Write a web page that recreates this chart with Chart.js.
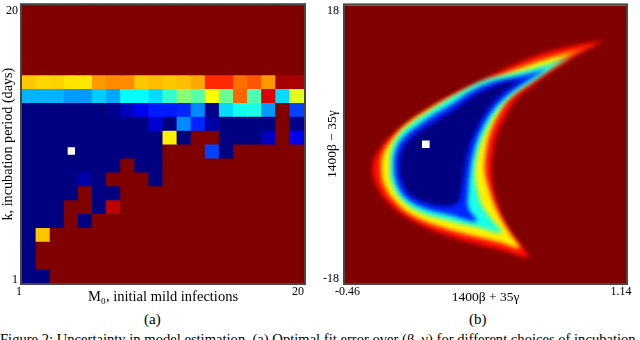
<!DOCTYPE html>
<html>
<head>
<meta charset="utf-8">
<script src="https://cdn.jsdelivr.net/npm/chart.js@4/dist/chart.umd.min.js"></script>
<style>
  body { margin: 0; width: 640px; height: 340px; overflow: hidden; position: relative; background: #fff; font-family: "Liberation Serif", serif; color: #000; }
  .panel { position: absolute; top: 0; width: 320px; height: 310px; }
  .sub { position: absolute; top: 310px; font-size: 15px; line-height: 18px; }
  .caption { position: absolute; left: 0; top: 331px; font-size: 14.6px; line-height: 16px; white-space: nowrap; }
</style>
</head>
<body>
<div class="panel" style="left:0"><canvas id="errGrid" width="320" height="310"></canvas></div>
<div class="panel" style="left:320px"><canvas id="errMap" width="320" height="310"></canvas></div>
<div class="sub" style="left:144px">(a)</div>
<div class="sub" style="left:469px">(b)</div>
<div class="caption">Figure 2: Uncertainty in model estimation. (a) Optimal fit error over (β, γ) for different choices of incubation</div>
<script>
// (a) fit error for each (M0, k), scaled 0..1 on the jet colour map
const mildInfections = [1, 2, 3, 4, 5, 6, 7, 8, 9, 10, 11, 12, 13, 14, 15, 16, 17, 18, 19, 20];
const incubationDays = [20, 19, 18, 17, 16, 15, 14, 13, 12, 11, 10, 9, 8, 7, 6, 5, 4, 3, 2, 1];
const fitError = [
  [1, 1, 1, 1, 1, 1, 1, 1, 1, 1, 1, 1, 1, 1, 1, 1, 1, 1, 1, 1],
  [1, 1, 1, 1, 1, 1, 1, 1, 1, 1, 1, 1, 1, 1, 1, 1, 1, 1, 1, 1],
  [1, 1, 1, 1, 1, 1, 1, 1, 1, 1, 1, 1, 1, 1, 1, 1, 1, 1, 1, 1],
  [1, 1, 1, 1, 1, 1, 1, 1, 1, 1, 1, 1, 1, 1, 1, 1, 1, 1, 1, 1],
  [1, 1, 1, 1, 1, 1, 1, 1, 1, 1, 1, 1, 1, 1, 1, 1, 1, 1, 1, 1],
  [0.68, 0.665, 0.67, 0.65, 0.65, 0.725, 0.74, 0.74, 0.68, 0.69, 0.68, 0.69, 0.71, 0.835, 0.835, 0.765, 0.79, 0.725, 0.96, 0.96],
  [0.30, 0.30, 0.30, 0.275, 0.275, 0.325, 0.29, 0.38, 0.38, 0.34, 0.425, 0.51, 0.46, 0.625, 0.48, 0.775, 0.45, 0.91, 0.34, 0.60],
  [0, 0, 0, 0, 0, 0, 0.01, 0.06, 0.11, 0.15, 0.15, 0.16, 0.26, 0.01, 0.34, 0.39, 0.40, 0.275, 1, 0.19],
  [0, 0, 0, 0, 0, 0, 0, 0, 0, 0.08, 0, 0.26, 0.16, 0.04, 0, 0, 0, 0, 1, 0.01],
  [0, 0, 0, 0, 0, 0, 0, 0, 0, 0, 0.64, 0, 1, 1, 0, 0, 0, 0.06, 1, 0.11],
  [0, 0, 0, 0, 0, 0, 0, 0, 0, 0, 1, 1, 1, 0.19, 0, 1, 1, 1, 1, 1],
  [0, 0, 0, 0, 0, 0, 0, 1, 0, 0, 1, 1, 1, 1, 1, 1, 1, 1, 1, 1],
  [0, 0, 0, 0, 0.04, 0, 1, 1, 1, 0, 1, 1, 1, 1, 1, 1, 1, 1, 1, 1],
  [0, 0, 0, 0, 1, 0, 0, 1, 1, 1, 1, 1, 1, 1, 1, 1, 1, 1, 1, 1],
  [0, 0, 0, 1, 1, 0, 0.94, 1, 1, 1, 1, 1, 1, 1, 1, 1, 1, 1, 1, 1],
  [0, 0, 0, 1, 0, 1, 1, 1, 1, 1, 1, 1, 1, 1, 1, 1, 1, 1, 1, 1],
  [0, 0.68, 1, 1, 1, 1, 1, 1, 1, 1, 1, 1, 1, 1, 1, 1, 1, 1, 1, 1],
  [0, 1, 1, 1, 1, 1, 1, 1, 1, 1, 1, 1, 1, 1, 1, 1, 1, 1, 1, 1],
  [0, 1, 1, 1, 1, 1, 1, 1, 1, 1, 1, 1, 1, 1, 1, 1, 1, 1, 1, 1],
  [0, 0, 1, 1, 1, 1, 1, 1, 1, 1, 1, 1, 1, 1, 1, 1, 1, 1, 1, 1]
];
const bestFitA = [{ x: 4, y: 10 }];
const mTickLabels = ['1', '20'];
const kTickLabels = ['1', '20'];

// (b) contours of the error surface over (1400β+35γ, 1400β−35γ), outermost last
const contourLevels = [0.0, 0.16, 0.4, 0.64, 0.86];
const coreContour = [[0.546, 8.40], [0.461, 8.06], [0.375, 7.41], [0.271, 6.26], [0.176, 4.77], [0.081, 3.36], [-0.014, 1.99], [-0.090, 0.71], [-0.137, -0.78], [-0.151, -2.71], [-0.137, -4.84], [-0.090, -6.55], [0.005, -7.62], [0.119, -8.04], [0.185, -7.49], [0.204, -5.69], [0.218, -3.56], [0.242, -0.78], [0.290, 1.99], [0.356, 4.55], [0.432, 6.48], [0.508, 7.76]];
const blueContour = [[0.688, 9.76], [0.574, 9.04], [0.461, 8.48], [0.356, 7.88], [0.252, 6.77], [0.157, 5.32], [0.053, 3.91], [-0.042, 2.42], [-0.118, 1.05], [-0.166, -0.57], [-0.181, -2.71], [-0.166, -5.05], [-0.113, -6.98], [-0.005, -8.34], [0.128, -9.11], [0.290, -9.96], [0.242, -8.26], [0.242, -6.12], [0.252, -3.56], [0.275, -0.78], [0.320, 1.99], [0.385, 4.47], [0.461, 6.26], [0.565, 7.97]];
const cyanContour = [[0.831, 11.30], [0.707, 10.45], [0.574, 9.59], [0.442, 8.91], [0.337, 8.31], [0.233, 7.20], [0.128, 5.84], [0.024, 4.34], [-0.071, 2.85], [-0.147, 1.35], [-0.194, -0.57], [-0.204, -2.71], [-0.194, -5.05], [-0.137, -7.19], [-0.024, -8.90], [0.128, -9.88], [0.290, -10.73], [0.432, -11.46], [0.375, -9.75], [0.318, -7.83], [0.290, -5.69], [0.280, -3.56], [0.299, -0.78], [0.347, 1.99], [0.413, 4.47], [0.499, 6.48], [0.612, 8.18], [0.736, 10.11]];
const yellowContour = [[0.964, 12.75], [0.840, 12.03], [0.669, 10.96], [0.499, 9.59], [0.328, 7.97], [0.157, 6.26], [0.005, 4.34], [-0.118, 2.42], [-0.204, 0.28], [-0.246, -1.42], [-0.255, -2.92], [-0.242, -5.05], [-0.185, -7.19], [-0.071, -9.32], [0.109, -10.90], [0.290, -12.01], [0.442, -12.87], [0.533, -13.47], [0.489, -11.89], [0.438, -10.05], [0.390, -7.83], [0.356, -5.48], [0.337, -3.56], [0.343, -1.00], [0.369, 1.57], [0.413, 3.79], [0.476, 5.96], [0.584, 7.97], [0.717, 10.11], [0.850, 11.90]];
const edgeContour = [[1.020, 13.44], [0.859, 12.88], [0.669, 11.81], [0.480, 10.11], [0.290, 7.97], [0.100, 5.84], [-0.052, 3.70], [-0.185, 1.35], [-0.261, -0.57], [-0.302, -2.71], [-0.289, -4.84], [-0.223, -7.40], [-0.090, -9.75], [0.100, -11.67], [0.290, -12.95], [0.442, -13.81], [0.584, -14.66], [0.537, -12.95], [0.480, -11.25], [0.432, -9.11], [0.394, -6.55], [0.375, -3.99], [0.381, -1.42], [0.404, 1.14], [0.451, 3.49], [0.517, 5.84], [0.631, 7.97], [0.764, 10.11], [0.897, 12.03]];
const bestFitB = [{ x: 0.0, y: 0.0 }];
const xbTickLabels = ['-0.46', '1.14'];
const ybTickLabels = ['-18', '18'];

// jet colour map
function jet(v) {
  const c = t => Math.round(255 * Math.max(0, Math.min(1, 1.5 - Math.abs(4 * v - t))));
  return `rgb(${c(3)}, ${c(2)}, ${c(1)})`;
}

Chart.defaults.font.family = '"Liberation Serif", serif';
Chart.defaults.color = '#000';

// dark frame, plot background and blur for the smooth map
const framePlugin = {
  id: 'frame',
  beforeDraw(chart, args, opts) {
    if (!opts.fill) return;
    const { ctx, chartArea: a } = chart;
    ctx.save();
    ctx.fillStyle = opts.fill;
    ctx.fillRect(a.left, a.top, a.width, a.height);
    ctx.restore();
  },
  beforeDatasetsDraw(chart, args, opts) {
    if (!opts.blur) return;
    chart.ctx.save();
    chart.ctx.filter = `blur(${opts.blur}px)`;
  },
  beforeDatasetDraw(chart, args, opts) {
    if (opts.blur && chart.data.datasets[args.index].sharp) chart.ctx.filter = 'none';
  },
  afterDatasetsDraw(chart, args, opts) {
    if (opts.blur) chart.ctx.restore();
  },
  afterDraw(chart) {
    const { ctx, chartArea: a } = chart;
    ctx.save();
    ctx.strokeStyle = '#474747';
    ctx.lineWidth = 2;
    ctx.strokeRect(a.left - 1, a.top - 1, a.width + 2, a.height + 2);
    ctx.restore();
  }
};

// fixed-size axis boxes so the plot area sits where the figure has it
function fixBox(w, h) {
  return s => {
    if (w !== null) s.width = w;
    if (h !== null) s.height = h;
    s.paddingTop = 0; s.paddingBottom = 0; s.paddingLeft = 0; s.paddingRight = 0;
  };
}

function axis(min, max, tickValues, labels, tickOpts, title, fit) {
  return {
    type: 'linear',
    min: min,
    max: max,
    offset: false,
    grid: { display: false, drawTicks: false },
    border: { display: false },
    afterBuildTicks: s => { s.ticks = tickValues.map(v => ({ value: v })); },
    afterFit: fit,
    ticks: Object.assign({ autoSkip: false, maxRotation: 0, font: { size: 12 }, callback: (v, i) => labels[i] }, tickOpts),
    title: Object.assign({ display: true }, title)
  };
}

// (a) grid of cells: one floating-bar dataset per incubation period
const gridSets = incubationDays.map((k, r) => ({
  type: 'bar',
  data: mildInfections.map(m => ({ x: m, y: [k - 0.5, k + 0.5] })),
  backgroundColor: fitError[r].map(jet),
  borderWidth: 0,
  inflateAmount: 0.5,
  grouped: false,
  barPercentage: 1,
  categoryPercentage: 1
}));

new Chart(document.getElementById('errGrid'), {
  type: 'bar',
  data: {
    datasets: [
      { type: 'scatter', data: bestFitA, pointStyle: 'rect', pointRadius: 5.2, backgroundColor: '#fff', borderWidth: 0 },
      ...gridSets
    ]
  },
  options: {
    responsive: false,
    animation: false,
    events: [],
    layout: { padding: { left: 0, right: 16, top: 2, bottom: 0 } },
    plugins: { legend: { display: false }, tooltip: { enabled: false }, frame: { fill: jet(1) } },
    scales: {
      x: axis(0.5, 20.5, [0.5, 20.5], mTickLabels, { align: 'end', padding: 2 },
        { text: 'M\u2080, initial mild infections', font: { size: 14.5 }, padding: { top: 0, bottom: 4 } }, fixBox(null, 27)),
      y: axis(0.5, 20.5, [0.75, 20.1], kTickLabels, { padding: 4 },
        { text: 'k, incubation period (days)', font: { size: 14.2 }, padding: { top: 0, bottom: 0 } }, fixBox(22, null))
    }
  },
  plugins: [framePlugin]
});

// (b) smooth error map drawn as filled contours
const contourSets = [coreContour, blueContour, cyanContour, yellowContour, edgeContour].map((c, i) => ({
  type: 'scatter',
  showLine: true,
  data: c.concat([c[0]]).map(([x, y]) => ({ x, y })),
  fill: 'shape',
  backgroundColor: jet(contourLevels[i]),
  borderWidth: 0,
  pointRadius: 0,
  tension: 0.4
}));

new Chart(document.getElementById('errMap'), {
  type: 'scatter',
  data: {
    datasets: [
      { data: bestFitB, pointStyle: 'rect', pointRadius: 5.4, backgroundColor: '#fff', borderWidth: 0, sharp: true },
      ...contourSets
    ]
  },
  options: {
    responsive: false,
    animation: false,
    events: [],
    layout: { padding: { left: 0, right: 14, top: 2, bottom: 0 } },
    plugins: { legend: { display: false }, tooltip: { enabled: false }, frame: { fill: jet(1), blur: 2.2 } },
    scales: {
      x: axis(-0.46, 1.14, [-0.446, 1.112], xbTickLabels, { padding: 2 },
        { text: '1400β + 35γ', font: { size: 13.5 }, padding: { top: 0, bottom: 4 } }, fixBox(null, 27)),
      y: axis(-18, 18, [-17.5, 17.3], ybTickLabels, { padding: 6 },
        { text: '1400β − 35γ', font: { size: 13.5 }, padding: { top: 4.8, bottom: 0 } }, fixBox(25, null))
    }
  },
  plugins: [framePlugin]
});
</script>
</body>
</html>
